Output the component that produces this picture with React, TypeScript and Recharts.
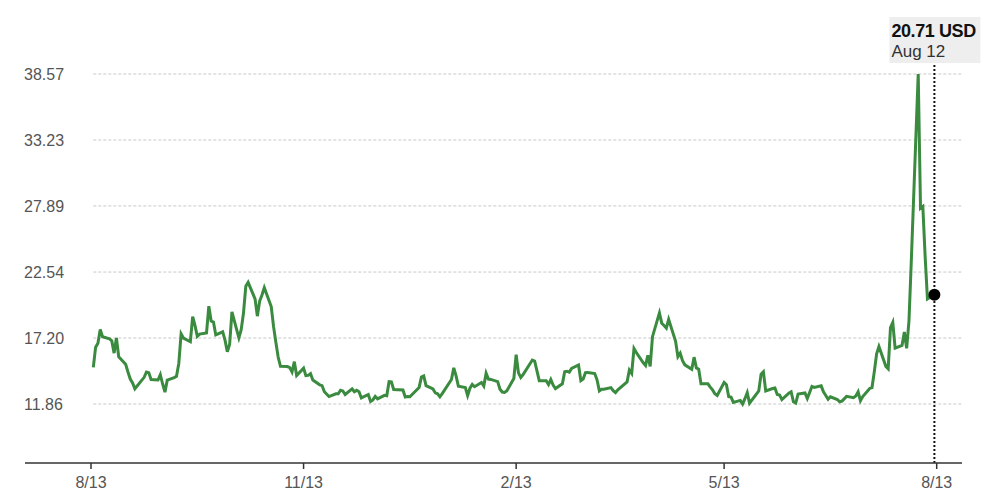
import React from 'react';
import { LineChart, Line, XAxis, YAxis, ReferenceLine, ReferenceDot } from 'recharts';

const dates: string[] = [
  '2023-08-14','2023-08-15','2023-08-16','2023-08-17','2023-08-18','2023-08-21','2023-08-22','2023-08-23','2023-08-24','2023-08-25',
  '2023-08-28','2023-08-29','2023-08-30','2023-08-31','2023-09-01','2023-09-05','2023-09-06','2023-09-07','2023-09-08',
  '2023-09-11','2023-09-12','2023-09-13','2023-09-14','2023-09-15','2023-09-18','2023-09-19','2023-09-20','2023-09-21','2023-09-22',
  '2023-09-25','2023-09-26','2023-09-27','2023-09-28','2023-09-29','2023-10-02','2023-10-03','2023-10-04','2023-10-05','2023-10-06',
  '2023-10-09','2023-10-10','2023-10-11','2023-10-12','2023-10-13','2023-10-16','2023-10-17','2023-10-18','2023-10-19','2023-10-20',
  '2023-10-23','2023-10-24','2023-10-25','2023-10-26','2023-10-27','2023-10-30','2023-10-31','2023-11-01','2023-11-02','2023-11-03',
  '2023-11-06','2023-11-07','2023-11-08','2023-11-09','2023-11-10','2023-11-13','2023-11-14','2023-11-15','2023-11-16','2023-11-17',
  '2023-11-20','2023-11-21','2023-11-22','2023-11-24','2023-11-27','2023-11-28','2023-11-29','2023-11-30','2023-12-01',
  '2023-12-04','2023-12-05','2023-12-06','2023-12-07','2023-12-08','2023-12-11','2023-12-12','2023-12-13','2023-12-14','2023-12-15',
  '2023-12-18','2023-12-19','2023-12-20','2023-12-21','2023-12-22','2023-12-26','2023-12-27','2023-12-28','2023-12-29',
  '2024-01-02','2024-01-03','2024-01-04','2024-01-05','2024-01-08','2024-01-09','2024-01-10','2024-01-11','2024-01-12',
  '2024-01-16','2024-01-17','2024-01-18','2024-01-19','2024-01-22','2024-01-23','2024-01-24','2024-01-25','2024-01-26',
  '2024-01-29','2024-01-30','2024-01-31','2024-02-01','2024-02-02','2024-02-05','2024-02-06','2024-02-07','2024-02-08','2024-02-09',
  '2024-02-12','2024-02-13','2024-02-14','2024-02-15','2024-02-16','2024-02-20','2024-02-21','2024-02-22','2024-02-23',
  '2024-02-26','2024-02-27','2024-02-28','2024-02-29','2024-03-01','2024-03-04','2024-03-05','2024-03-06','2024-03-07','2024-03-08',
  '2024-03-11','2024-03-12','2024-03-13','2024-03-14','2024-03-15','2024-03-18','2024-03-19','2024-03-20','2024-03-21','2024-03-22',
  '2024-03-25','2024-03-26','2024-03-27','2024-03-28','2024-04-01','2024-04-02','2024-04-03','2024-04-04','2024-04-05',
  '2024-04-08','2024-04-09','2024-04-10','2024-04-11','2024-04-12','2024-04-15','2024-04-16','2024-04-17','2024-04-18','2024-04-19',
  '2024-04-22','2024-04-23','2024-04-24','2024-04-25','2024-04-26','2024-04-29','2024-04-30','2024-05-01','2024-05-02','2024-05-03',
  '2024-05-06','2024-05-07','2024-05-08','2024-05-09','2024-05-10','2024-05-13','2024-05-14','2024-05-15','2024-05-16','2024-05-17',
  '2024-05-20','2024-05-21','2024-05-22','2024-05-23','2024-05-24','2024-05-28','2024-05-29','2024-05-30','2024-05-31',
  '2024-06-03','2024-06-04','2024-06-05','2024-06-06','2024-06-07','2024-06-10','2024-06-11','2024-06-12','2024-06-13','2024-06-14',
  '2024-06-17','2024-06-18','2024-06-20','2024-06-21','2024-06-24','2024-06-25','2024-06-26','2024-06-27','2024-06-28',
  '2024-07-01','2024-07-02','2024-07-03','2024-07-05','2024-07-08','2024-07-09','2024-07-10','2024-07-11','2024-07-12',
  '2024-07-15','2024-07-16','2024-07-17','2024-07-18','2024-07-19','2024-07-22','2024-07-23','2024-07-24','2024-07-25','2024-07-26',
  '2024-07-29','2024-07-30','2024-07-31','2024-08-01','2024-08-02','2024-08-05','2024-08-06','2024-08-07','2024-08-08','2024-08-09',
  '2024-08-12',
];

const values: number[] = [
  14.82,16.46,16.78,17.89,17.30,17.13,16.97,15.98,17.20,15.68,
  15.08,14.45,13.88,13.57,13.09,14.02,14.45,14.40,13.84,
  13.80,14.23,13.48,12.82,13.79,14.00,14.11,15.14,17.54,17.20,
  16.90,18.94,18.22,17.34,17.52,17.61,19.78,18.58,18.49,17.45,
  17.70,17.03,16.09,16.69,19.32,17.21,17.88,19.22,21.40,21.71,
  20.37,18.97,20.19,20.68,21.27,19.75,18.14,16.87,15.66,14.91,
  14.89,14.81,14.45,15.29,14.17,14.76,14.16,14.18,14.32,13.80,
  13.41,13.35,12.85,12.46,12.69,12.69,12.98,12.92,12.63,
  13.08,12.85,12.97,12.86,12.35,12.63,12.07,12.19,12.48,12.28,
  12.56,12.53,13.67,13.65,13.03,12.99,12.43,12.47,12.45,
  13.20,14.04,14.13,13.35,13.08,12.76,12.69,12.44,12.70,
  13.84,14.79,14.13,13.30,13.19,12.55,13.14,13.45,13.26,
  13.60,13.31,14.35,13.88,13.85,13.67,13.06,12.83,12.79,12.93,
  13.93,15.85,14.38,14.01,14.24,15.42,15.34,14.54,13.75,
  13.74,13.43,13.84,13.40,13.11,13.49,14.46,14.50,14.44,14.74,
  15.02,13.75,13.88,14.40,14.41,14.33,13.82,12.92,13.06,13.06,
  13.19,12.94,12.78,13.01,13.65,14.61,14.33,16.35,16.03,
  15.19,14.98,15.80,14.91,17.31,19.23,18.40,18.21,18.00,18.71,
  16.94,15.69,15.97,15.37,15.03,14.67,15.65,14.78,14.68,13.49,
  13.49,13.23,13.00,12.69,12.55,13.60,13.42,12.45,12.42,11.99,
  12.15,11.86,12.29,12.77,11.93,12.92,14.28,14.47,12.92,
  13.11,13.16,12.63,12.58,12.22,12.74,12.85,12.04,11.94,12.66,
  12.75,12.30,13.28,13.20,13.33,12.84,12.55,12.24,12.44,
  12.22,12.03,12.09,12.48,12.37,12.51,12.85,12.12,12.46,
  13.12,13.19,14.48,15.93,16.52,14.91,14.72,18.04,18.46,16.39,
  16.60,17.69,16.36,18.59,23.39,38.57,27.71,27.85,23.79,20.37,
  20.71,
];

const yTicks: number[] = [11.86, 17.2, 22.54, 27.89, 33.23, 38.57];
const xTickDates: string[] = ['2023-08-13', '2023-11-13', '2024-02-13', '2024-05-13', '2024-08-13'];
const calloutValue = '20.71 USD';
const calloutDate = 'Aug 12';

const DAY = 86400000;
const toTs = (d: string) => Date.parse(d + 'T00:00:00Z');
const data = dates.map((d, i) => ({ t: toTs(d), v: values[i] }));
const xTicks = xTickDates.map(toTs);
const xMin = xTicks[0] - 28.56 * DAY;
const xMax = xTicks[xTicks.length - 1] + 10.95 * DAY;
const last = data[data.length - 1];

const FONT = '"Liberation Sans", Arial, Helvetica, sans-serif';

const renderYTick = (props: any) => (
  <text x={17 - 1} y={props.y} dy="0.35em" textAnchor="start" fill="#555" fontSize={16} fontFamily={FONT}>
    {Number(props.payload.value).toFixed(2)}
  </text>
);

const fmtX = (t: number) => {
  const d = new Date(t);
  return `${d.getUTCMonth() + 1}/${d.getUTCDate()}`;
};

const Callout = (props: any) => {
  const vb = props.viewBox || {};
  const x = vb.x;
  const y = vb.y;
  return (
    <g>
      <rect x={x - 45} y={y - 46} width={91} height={46} fill="#eeeeee" />
      <text x={x - 43} y={y - 26} fontSize={18} fontWeight={700} fill="#111" fontFamily={FONT} letterSpacing={-0.4}>
        {calloutValue}
      </text>
      <text x={x - 43} y={y - 6} fontSize={17} fill="#333" fontFamily={FONT}>
        {calloutDate}
      </text>
    </g>
  );
};

export default function App() {
  return (
    <div style={{ fontFamily: FONT }}>
      <LineChart width={981} height={488} data={data} margin={{ top: 55, right: 27, bottom: 3, left: 7 }}>
        <XAxis
          dataKey="t"
          type="number"
          domain={[xMin, xMax]}
          allowDataOverflow
          ticks={xTicks}
          tickFormatter={fmtX}
          tickSize={6}
          tickMargin={8}
          height={30}
          axisLine={{ stroke: '#333', strokeWidth: 1.5 }}
          tickLine={{ stroke: '#333', strokeWidth: 1.5 }}
          tick={{ fill: '#555', fontSize: 16, fontFamily: FONT }}
        />
        <YAxis
          type="number"
          domain={[7.085, 39.46]}
          allowDataOverflow
          ticks={yTicks}
          interval={0}
          width={10}
          axisLine={false}
          tickLine={false}
          tickSize={0}
          tickMargin={0}
          tick={renderYTick}
        />
        {yTicks.map((v) => (
          <ReferenceLine
            key={v}
            segment={[{ x: data[0].t, y: v }, { x: xMax, y: v }]}
            stroke="#c8c8c8"
            strokeWidth={1}
            strokeDasharray="3 2"
          />
        ))}
        <Line
          type="linear"
          dataKey="v"
          stroke="#3a8b3f"
          strokeWidth={3}
          dot={false}
          activeDot={false}
          isAnimationActive={false}
        />
        <ReferenceLine x={last.t} stroke="#111" strokeWidth={2} strokeDasharray="2 2" label={<Callout />} />
        <ReferenceDot x={last.t} y={last.v} r={6} fill="#000" stroke="none" />
      </LineChart>
    </div>
  );
}
